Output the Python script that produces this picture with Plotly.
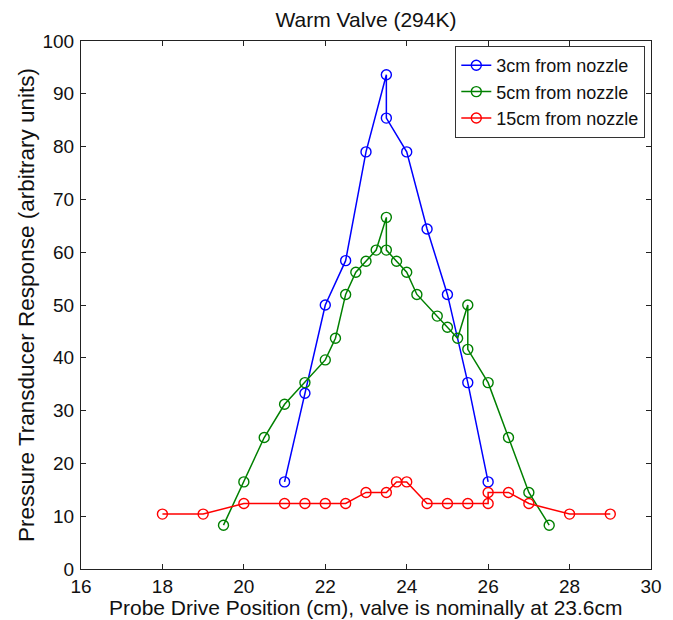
import plotly.graph_objects as go

# Probe drive position (cm) and transducer response for each nozzle distance
pos_3cm = [21, 21.5, 22, 22.5, 23, 23.5, 23.5, 24, 24.5, 25, 25.5, 26]
resp_3cm = [16.5, 33.3, 50.0, 58.4, 79.0, 93.6, 85.4, 79.0, 64.4, 52.0, 35.3, 16.5]

pos_5cm = [19.5, 20, 20.5, 21, 21.5, 22, 22.25, 22.5, 22.75, 23, 23.25, 23.5, 23.5,
           23.75, 24, 24.25, 24.75, 25, 25.25, 25.5, 25.5, 26, 26.5, 27, 27.5]
resp_5cm = [8.3, 16.5, 24.9, 31.2, 35.3, 39.6, 43.7, 52.0, 56.2, 58.3, 60.4, 66.6, 60.4,
            58.3, 56.2, 52.0, 47.9, 45.8, 43.7, 50.0, 41.6, 35.3, 24.9, 14.5, 8.3]

pos_15cm = [18, 19, 20, 21, 21.5, 22, 22.5, 23, 23.5, 23.75, 24, 24.5, 25, 25.5,
            26, 26, 26.5, 27, 28, 29]
resp_15cm = [10.4, 10.4, 12.4, 12.4, 12.4, 12.4, 12.4, 14.5, 14.5, 16.5, 16.5, 12.4,
             12.4, 12.4, 12.4, 14.5, 14.5, 12.4, 10.4, 10.4]

series = [
    ("3cm from nozzle", pos_3cm, resp_3cm, "#0000FF"),
    ("5cm from nozzle", pos_5cm, resp_5cm, "#008000"),
    ("15cm from nozzle", pos_15cm, resp_15cm, "#FF0000"),
]

FONT = "Liberation Sans, Arial, Helvetica, sans-serif"
INK = "#111111"

W, H = 673, 620
ML, MR, MT, MB = 81, 22, 41, 51
PW, PH = W - ML - MR, H - MT - MB

fig = go.Figure()
for name, x, y, color in series:
    fig.add_trace(go.Scatter(
        x=x, y=y, name=name, mode="lines+markers",
        line=dict(color=color, width=1.5),
        marker=dict(symbol="circle-open", size=10, color=color,
                    line=dict(color=color, width=1.4)),
    ))

axis_common = dict(
    showline=True, linecolor="#222222", linewidth=1,
    mirror="ticks", ticks="inside", ticklen=5, tickcolor="#222222",
    showgrid=False, zeroline=False, automargin=False,
    tickfont=dict(family=FONT, size=19, color=INK),
)

fig.update_xaxes(range=[16, 30], dtick=2, tick0=16, ticklabelstandoff=0, **axis_common)
fig.update_yaxes(range=[0, 100], dtick=10, tick0=0, ticklabelstandoff=2, **axis_common)

# Axis titles placed in the margins
fig.add_annotation(
    text="Probe Drive Position (cm), valve is nominally at 23.6cm",
    xref="paper", yref="paper", x=0.5, y=-(607 - (H - MB)) / PH,
    xanchor="center", yanchor="middle", showarrow=False,
    font=dict(family=FONT, size=21, color=INK),
)
fig.add_annotation(
    text="Pressure Transducer Response (arbitrary units)",
    xref="paper", yref="paper", x=-(ML - 26) / PW, y=0.5,
    xanchor="center", yanchor="middle", showarrow=False, textangle=-90,
    font=dict(family=FONT, size=22.5, color=INK),
)

fig.update_layout(
    width=W, height=H,
    margin=dict(l=ML, r=MR, t=MT, b=MB),
    paper_bgcolor="white", plot_bgcolor="white",
    title=dict(text="Warm Valve (294K)", x=(ML + W - MR) / 2 / W, xanchor="center",
               y=1 - 20 / H, yanchor="middle",
               font=dict(family=FONT, size=21, color=INK)),
    legend=dict(
        x=0.99, y=0.9905, xanchor="right", yanchor="top",
        bgcolor="white", bordercolor="#333333", borderwidth=1,
        font=dict(family=FONT, size=18, color=INK),
        tracegroupgap=0, itemwidth=30,
    ),
    showlegend=True,
)

fig.write_html("out.html")
